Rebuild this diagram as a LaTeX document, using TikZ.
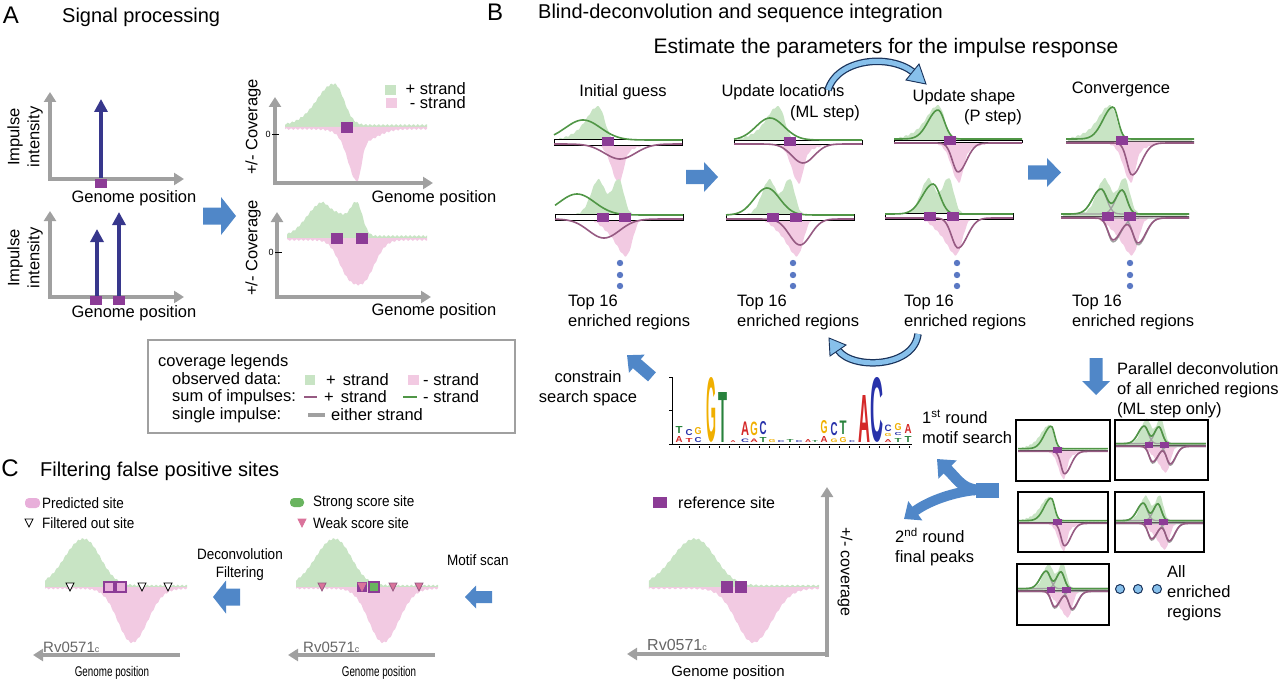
\documentclass[tikz,border=0pt]{standalone}
\usepackage{fontspec}
\setmainfont{Liberation Sans}
\usepackage{graphicx}
\usetikzlibrary{arrows.meta,positioning}

\definecolor{obsg}{RGB}{200,228,196}
\definecolor{obsp}{RGB}{242,202,226}
\definecolor{fitgreen}{RGB}{80,150,70}
\definecolor{fitpurp}{RGB}{150,90,130}
\definecolor{sitec}{RGB}{140,60,150}
\definecolor{axgray}{RGB}{160,160,160}
\definecolor{arrblue}{RGB}{80,135,200}
\definecolor{navy}{RGB}{55,55,140}
\definecolor{dotblue}{RGB}{90,120,195}
\definecolor{clight}{RGB}{135,192,235}
\definecolor{cdark}{RGB}{25,50,90}
\definecolor{predpink}{RGB}{232,175,218}
\definecolor{weakpink}{RGB}{218,115,155}
\definecolor{strongg}{RGB}{105,180,95}
\definecolor{lgred}{RGB}{212,40,40}
\definecolor{lgblue}{RGB}{40,50,170}
\definecolor{lgyel}{RGB}{240,175,0}
\definecolor{lggreen}{RGB}{40,130,60}

\tikzset{
  declare function={hump(\ux,\uc,\ul,\ur,\uh)=\uh*exp(-min(((\ux-\uc)/((\ux<\uc)?\ul:\ur))^2,16));},
  fitg/.style={draw=fitgreen, line width=1.6pt},
  fitp/.style={draw=fitpurp, line width=1.6pt},
  onepulse/.style={draw=axgray, line width=1.3pt},
  axis/.style={draw=axgray, line width=3.5pt, -{Triangle[length=10pt,width=12pt]}},
  pulse/.style={draw=navy, line width=4pt, -{Triangle[length=13pt,width=13pt]}},
  lbl/.style={inner sep=0pt, font=\fontsize{16.5}{20}\selectfont},
  head/.style={inner sep=0pt, font=\fontsize{20}{24}\selectfont},
  letter/.style={inner sep=0pt, font=\fontsize{24}{28}\selectfont},
  clbl/.style={inner sep=0pt, font=\fontsize{15}{18}\selectfont, xscale=0.9},
  stripe/.style={fill=white, draw=black, line width=0.8pt},
  minibox/.style={draw=black, line width=1.5pt},
  legbox/.style={draw=axgray, line width=2pt},
}

% block arrow: centre x, centre y, angle, length, shaft width, head width, head length
\newcommand{\blockarrow}[7]{%
  \fill[arrblue, shift={(#1,#2)}, rotate=#3] (-#4/2,-#5/2) -- (#4/2-#7,-#5/2) -- (#4/2-#7,-#6/2)
    -- (#4/2,0) -- (#4/2-#7,#6/2) -- (#4/2-#7,#5/2) -- (-#4/2,#5/2) -- cycle;}
% observed coverage, single and double peak
\newcommand{\obsone}{%
  \fill[obsg] (-62,0) -- plot[domain=-62:62,samples=100] (\x,{-1.5-hump(\x,-19,15,8,30)-hump(\x,-35,20,20,7)-0.8*sin(67*\x)}) -- (62,0) -- cycle;
  \fill[obsp] (-62,0) -- plot[domain=-62:62,samples=100] (\x,{1.5+hump(\x,1,10,6,32)+hump(\x,4,18,18,8)+0.8*sin(71*\x)}) -- (62,0) -- cycle;}
\newcommand{\obstwo}{%
  \fill[obsg] (-62,0) -- plot[domain=-62:62,samples=100] (\x,{-1.5-hump(\x,-21,10,8,26)-hump(\x,0,8,7,30)-hump(\x,-12,20,15,12)-0.8*sin(67*\x)}) -- (62,0) -- cycle;
  \fill[obsp] (-62,0) -- plot[domain=-62:62,samples=100] (\x,{1.5+hump(\x,8,10,8,34)+hump(\x,-5,15,10,16)+0.8*sin(71*\x)}) -- (62,0) -- cycle;}
\newcommand{\upcurve}[2]{\draw[#1] plot[domain=-64:64,samples=70,smooth] (\x,{-2-(#2)});}
\newcommand{\downcurve}[2]{\draw[#1] plot[domain=-64:64,samples=70,smooth] (\x,{2+(#2)});}
\newcommand{\stripe}[1]{\filldraw[stripe] (-64,-#1) rectangle (64,#1);}
\newcommand{\site}[1]{\fill[sitec] (#1-6,-4.5) rectangle (#1+6,4.5);}
\newcommand{\convone}{\obsone \stripe{0}
  \upcurve{fitg}{hump(\x,-17,14,7,32)} \downcurve{fitp}{hump(\x,2,7,13,32)} \site{-8}}
\newcommand{\convtwo}{\obstwo \stripe{0}
  \upcurve{onepulse}{hump(\x,-24,12,8,25)} \downcurve{onepulse}{hump(\x,-12,7,11,24)}
  \upcurve{onepulse}{hump(\x,-3,9,7,24)} \downcurve{onepulse}{hump(\x,13,7,11,27)}
  \upcurve{fitg}{hump(\x,-24,12,8,25)+hump(\x,-3,9,7,24)}
  \downcurve{fitp}{hump(\x,-12,7,11,22)+hump(\x,13,7,11,25)} \site{-17}\site{5}}
% coverage of panel C
\newcommand{\covc}{%
  \fill[obsg] (-71,0) -- plot[domain=-71:71,samples=120] (\x,{-1.5-hump(\x,-30,28,22,40)-hump(\x,-40,20,20,8)-0.9*sin(83*\x)}) -- (71,0) -- cycle;
  \fill[obsp] (-71,0) -- plot[domain=-71:71,samples=120] (\x,{1.5+hump(\x,16,20,22,54)+0.9*sin(79*\x)}) -- (71,0) -- cycle;}
\newcommand{\tri}[4]{\filldraw[fill=#3, draw=#4, line width=0.7pt] (#1-4,#2-4) -- (#1+4,#2-4) -- (#1,#2+4) -- cycle;}

\begin{document}
\begin{tikzpicture}[x=1pt,y=-1pt]
\useasboundingbox (0,0) rectangle (1280,682);

% ---------------- A
\node[letter] (labA) at (11,15) {A};
\node[head, anchor=west] (titA) at (62,17) {Signal processing};

\draw[axis] (50,181) -- (50,92);
\draw[axis] (48,179) -- (184,179);
\draw[pulse] (101,178) -- (101,99);
\fill[sitec] (95,179) rectangle (107,188);
\node[lbl] (gpA1) at (134,198) {Genome position};
\node[lbl, rotate=90, align=center] (yA1) at (25,137) {Impulse\\intensity};

\draw[axis] (50,299) -- (50,211);
\draw[axis] (48,297) -- (184,297);
\draw[pulse] (97,296) -- (97,229);
\draw[pulse] (119,296) -- (119,212);
\fill[sitec] (90,296) rectangle (102,305);
\fill[sitec] (113,296) rectangle (125,305);
\node[lbl] (gpA2) at (134,313) {Genome position};
\node[lbl, rotate=90, align=center] (yA2) at (25,258) {Impulse\\intensity};

\blockarrow{219.5}{216}{0}{33}{17}{38}{15}

\begin{scope}[shift={(356,127)}]
  \fill[obsg] (-71,0) -- plot[domain=-71:71,samples=120] (\x,{-2-hump(\x,-21,22,13,38)-hump(\x,-40,22,22,6)-0.9*sin(83*\x)}) -- (71,0) -- cycle;
  \fill[obsp] (-71,0) -- plot[domain=-71:71,samples=120] (\x,{2+hump(\x,1,12,6,40)+hump(\x,5,22,22,13)+0.9*sin(79*\x)}) -- (71,0) -- cycle;
\end{scope}
\fill[sitec] (341,122) rectangle (353,133);
\draw[axis] (275,185) -- (275,97);
\draw[axis] (273,183) -- (433,183);
\node[inner sep=0pt, font=\fontsize{9}{10}\selectfont] (zeroA1) at (268,134) {0};
\draw[line width=0.8pt] (272,134) -- (279,134);
\node[lbl, rotate=90] (yA3) at (253,127) {+/- Coverage};
\node[lbl] (gpA3) at (434,198) {Genome position};
\fill[obsg] (385,85) rectangle (396,95);
\fill[obsp] (386,98) rectangle (397,108);
\node[lbl, anchor=east] (plusA) at (466,89) {+ strand};
\node[lbl, anchor=east] (minusA) at (466,103) {- strand};

\begin{scope}[shift={(357,238)}]
  \fill[obsg] (-70,0) -- plot[domain=-70:70,samples=120] (\x,{-2-hump(\x,-37,20,12,30)-hump(\x,0,9,8,30)-hump(\x,-18,14,14,20)-0.9*sin(83*\x)}) -- (70,0) -- cycle;
  \fill[obsp] (-70,0) -- plot[domain=-70:70,samples=120] (\x,{2+hump(\x,5,20,17,42)+hump(\x,-12,12,12,14)+0.9*sin(79*\x)}) -- (70,0) -- cycle;
\end{scope}
\fill[sitec] (331,233) rectangle (343,244);
\fill[sitec] (356,233) rectangle (368,244);
\draw[axis] (277,299) -- (277,212);
\draw[axis] (275,297) -- (431,297);
\node[inner sep=0pt, font=\fontsize{9}{10}\selectfont] (zeroA2) at (271,252) {0};
\draw[line width=0.8pt] (275,252) -- (282,252);
\node[lbl, rotate=90] (yA4) at (253,248) {+/- Coverage};
\node[lbl] (gpA4) at (434,311) {Genome position};

% legend box
\draw[legbox] (148,340) rectangle (515,433);
\node[lbl, anchor=west] (lg0) at (158,362) {coverage legends};
\node[lbl, anchor=west] (lg1) at (172,379) {observed data:};
\node[lbl, anchor=west] (lg2) at (172,397) {sum of impulses:};
\node[lbl, anchor=west] (lg3) at (172,415) {single impulse:};
\fill[obsg] (305,375) rectangle (315,385);
\node[lbl, anchor=west] (lg1a) at (326,380) {+\hspace{7pt}strand};
\fill[obsp] (408,375) rectangle (419,385);
\node[lbl, anchor=west] (lg1b) at (423,380) {- strand};
\draw[fitp, line width=1.2pt] (304,397) -- (317,397);
\node[lbl, anchor=west] (lg2a) at (324,397) {+\hspace{7pt}strand};
\draw[fitg, line width=1.2pt] (403,397) -- (417,397);
\node[lbl, anchor=west] (lg2b) at (423,397) {- strand};
\draw[onepulse, line width=3.5pt] (308,415) -- (325,415);
\node[lbl, anchor=west] (lg3a) at (331,415) {either strand};

% ---------------- B
\node[letter] (labB) at (495,12) {B};
\node[head, anchor=west] (titB) at (538,13) {Blind-deconvolution and sequence integration};
\node[inner sep=0pt, font=\fontsize{21}{24}\selectfont] (titB2) at (886,48) {Estimate the parameters for the impulse response};

\node[lbl] (colB1) at (623,92) {Initial guess};
\node[lbl] (colB2) at (783,92) {Update locations};
\node[lbl, anchor=east] (mlstep) at (860,113) {(ML step)};
\node[lbl] (colB3) at (964,97) {Update shape};
\node[lbl, anchor=east] (pstep) at (1022,117) {(P step)};
\node[lbl] (colB4) at (1121,89) {Convergence};

% initial guess
\begin{scope}[shift={(618,142)}]
  \obsone \stripe{3}
  \upcurve{fitg}{hump(\x,-35,25,25,20)} \downcurve{fitp}{hump(\x,2,22,22,15)} \site{-10}
\end{scope}
\begin{scope}[shift={(619,217)}]
  \obstwo \stripe{3}
  \upcurve{fitg}{hump(\x,-42,25,25,21)} \downcurve{fitp}{hump(\x,-15,22,22,19)} \site{-16}\site{6}
\end{scope}
% update locations
\begin{scope}[shift={(798,142)}]
  \obsone \stripe{2}
  \upcurve{fitg}{hump(\x,-28,20,20,22)} \downcurve{fitp}{hump(\x,5,16,16,19)} \site{-8}
\end{scope}
\begin{scope}[shift={(790,217)}]
  \obstwo \stripe{3}
  \upcurve{fitg}{hump(\x,-23,18,18,27)} \downcurve{fitp}{hump(\x,10,15,15,26)} \site{-17}\site{6}
\end{scope}
% update shape
\begin{scope}[shift={(958,141)}]
  \obsone \stripe{1}
  \upcurve{fitg}{hump(\x,-20,14,9,29)} \downcurve{fitp}{hump(\x,0,8,12,29)} \site{-8}
\end{scope}
\begin{scope}[shift={(949,216)}]
  \obstwo \stripe{3}
  \upcurve{fitg}{hump(\x,-16,15,10,30)} \downcurve{fitp}{hump(\x,9,9,13,30)} \site{-19}\site{4}
\end{scope}
% convergence
\begin{scope}[shift={(1130,141)}] \convone \end{scope}
\begin{scope}[shift={(1125,216)}] \convtwo \end{scope}

\blockarrow{702}{177}{0}{32}{14}{30}{14}
\blockarrow{1044.5}{172.5}{0}{33}{14}{29}{14}

\foreach \cx in {620,793,957,1130}
  \foreach \cy in {263,275,286}
    \fill[dotblue] (\cx,\cy) circle (3.2);
\node[lbl, anchor=west, align=left] (top1) at (568,312) {Top 16\\enriched regions};
\node[lbl, anchor=west, align=left] (top2) at (737,312) {Top 16\\enriched regions};
\node[lbl, anchor=west, align=left] (top3) at (904,312) {Top 16\\enriched regions};
\node[lbl, anchor=west, align=left] (top4) at (1072,312) {Top 16\\enriched regions};

% curved arrows
\draw[line width=7.5pt, cdark] (828,90) .. controls (838,58) and (890,54) .. (913,72);
\draw[line width=5pt, clight] (828,90) .. controls (838,58) and (890,54) .. (913,72);
\filldraw[fill=clight, draw=cdark, line width=0.9pt] (926,84) -- (906,80) -- (919,64) -- cycle;
\draw[line width=7.5pt, cdark] (918,334) .. controls (914,368) and (852,370) .. (838,350);
\draw[line width=5pt, clight] (918,334) .. controls (914,368) and (852,370) .. (838,350);
\filldraw[fill=clight, draw=cdark, line width=0.9pt] (829,338) -- (846,345) -- (830,356) -- cycle;

% motif logo
\draw[line width=0.8pt] (672,377) -- (672,444);
\foreach \ty in {377,410,444} \draw[line width=0.6pt] (669,\ty) -- (672,\ty);
\draw[line width=0.6pt] (672,444) -- (912,444);
\foreach \tx in {679,689,...,909} \draw[line width=1pt] (\tx,446) -- (\tx,448);
\foreach \lx/\ly/\lw/\lh/\lc/\ll [count=\li] in {
  679/443/7/6/lgred/A, 679/434/7/7/lggreen/T,
  689/443/7/4/lgred/T, 689/436/7/6/lgblue/C,
  698/443/7/5/lgblue/C, 698/435/7/7/lgyel/G,
  711/443/10/64/lgyel/G, 723/443/9/50/lggreen/T, 733/443/5/2/lgred/A,
  745/443/8/3.5/lgblue/C, 745/436/8/13.5/lgred/A,
  754/443/7.5/3.5/lgred/A, 754/436/7.5/13.5/lgyel/G,
  763/443/7/5/lggreen/T, 763/435/7/13/lgblue/C,
  772/443/7/3/lgyel/G, 781/443/7/2/lgblue/C, 790/443/7/3/lggreen/T,
  799/443/7/2/lgblue/C, 808/443/6/3/lgred/A, 815/443/6/2/lggreen/T,
  824/443/7/6/lgred/A, 824/434/7/13/lgyel/G,
  834/443/7/3.5/lgyel/G, 834/436/7/13/lgblue/C,
  843/443/7/5/lgyel/G, 843/435/7/13.5/lggreen/T,
  852/443/6/2/lgblue/C,
  864/443/12/47/lgred/A, 877/443/13/64/lgblue/C,
  888/443/7/3/lgred/A, 888/437/7/3/lgyel/G, 888/431.5/7/6.5/lgblue/C,
  898/443/7/4/lggreen/T, 898/436/7/3/lgblue/C, 898/430.5/7/7/lgyel/G,
  908/443/7/6/lggreen/T, 908/434/7/9/lgred/A}
  \node[inner sep=0pt, anchor=south] (logo\li) at (\lx,\ly) {\resizebox{\lw pt}{\lh pt}{\textcolor{\lc}{\bfseries\ll}}};

\node[lbl, align=center] (constr) at (588,388) {constrain\\search space};
\blockarrow{639.5}{366}{139}{33}{12}{24}{13}
\node[lbl, anchor=west, align=left] (round1) at (922,427) {1\textsuperscript{st} round\\motif search};
\node[lbl, anchor=west, align=left] (round2) at (895,547) {2\textsuperscript{nd} round\\final peaks};

% parallel deconvolution
\blockarrow{1096}{376.5}{-90}{37}{13}{28}{14}
\node[lbl, anchor=west, align=left] (para) at (1117,390) {Parallel deconvolution\\of all enriched regions\\(ML step only)};
\begin{scope}[shift={(1063,450)}, scale=0.7] \convone \end{scope}
\draw[minibox] (1016,420) rectangle (1110,481);
\begin{scope}[shift={(1161,445)}, scale=0.7] \convtwo \end{scope}
\draw[minibox] (1115,420) rectangle (1208,480);
\begin{scope}[shift={(1063,522)}, scale=0.7] \convone \end{scope}
\draw[minibox] (1018,492) rectangle (1108,552);
\begin{scope}[shift={(1160,522)}, scale=0.7] \convtwo \end{scope}
\draw[minibox] (1115,492) rectangle (1204,552);
\begin{scope}[shift={(1063,590)}, scale=0.7] \convtwo \end{scope}
\draw[minibox] (1017,564) rectangle (1109,625);
\foreach \cx in {1120,1138,1157}
  \filldraw[fill=clight, draw=cdark, line width=1pt] (\cx,589) circle (4.5);
\node[lbl, anchor=west, align=left] (allreg) at (1167,593) {All\\enriched\\regions};

% fork arrow
\coordinate (forkstem) at (999,490);
\coordinate (forkmid) at (976,490);
\coordinate (forkup) at (937,459);
\coordinate (forkdown) at (904,519);
\draw[arrblue, line width=15pt] (forkstem) -- (forkmid);
\draw[arrblue, line width=11pt, -{Triangle[width=25pt,length=15pt]}] (forkmid) .. controls (962,488) and (958,480) .. (forkup);
\draw[arrblue, line width=10pt, -{Triangle[width=23pt,length=14pt]}] (forkmid) .. controls (955,492) and (930,500) .. (forkdown);

% ---------------- C
\node[letter] (labC) at (10,468) {C};
\node[head, anchor=west] (titC) at (40,471) {Filtering false positive sites};

% left: after filtering
\fill[predpink, rounded corners=4pt] (25,498) rectangle (40,508);
\node[clbl, anchor=west] (lgpred) at (42,503) {Predicted site};
\tri{29}{523}{white}{black}
\node[clbl, anchor=west] (lgfilt) at (42,523) {Filtered out site};
\begin{scope}[shift={(116,587)}] \covc \end{scope}
\tri{70}{587}{white}{black} \tri{142}{587}{white}{black} \tri{168}{587}{white}{black}
\filldraw[fill=predpink, draw=sitec, line width=1.2pt] (104,582) rectangle (114,592);
\filldraw[fill=predpink, draw=sitec, line width=1.2pt] (116,582) rectangle (126,592);
\draw[axis] (180,655) -- (33,655);
\node[inner sep=0pt, anchor=west, text=black!60, font=\fontsize{15}{18}\selectfont] (geneL) at (43,647) {Rv0571\small c};
\node[clbl, font=\fontsize{14}{17}\selectfont, xscale=0.78] (gpC1) at (112,673) {Genome position};

\blockarrow{226.5}{597}{180}{27}{17}{33}{13}
\node[clbl, align=center] (decfilt) at (240,565) {Deconvolution\\Filtering};

% middle: motif scan
\fill[strongg, rounded corners=4pt] (290,498) rectangle (304,507);
\node[clbl, anchor=west] (lgstrong) at (313,503) {Strong score site};
\tri{302}{523}{weakpink}{weakpink}
\node[clbl, anchor=west] (lgweak) at (313,523) {Weak score site};
\begin{scope}[shift={(367,587)}] \covc \end{scope}
\tri{322}{587}{weakpink}{fitpurp} \tri{393}{587}{weakpink}{fitpurp} \tri{419}{587}{weakpink}{fitpurp}
\fill[sitec] (357,582) rectangle (367,592);
\tri{362}{587}{weakpink}{weakpink}
\filldraw[fill=strongg, draw=sitec, line width=1.2pt] (369,582) rectangle (379,592);
\draw[axis] (435,655) -- (288,655);
\node[inner sep=0pt, anchor=west, text=black!60, font=\fontsize{15}{18}\selectfont] (geneM) at (303,647) {Rv0571\small c};
\node[clbl, font=\fontsize{14}{17}\selectfont, xscale=0.78] (gpC2) at (379,673) {Genome position};

\blockarrow{478.5}{597}{180}{27}{12}{23}{11}
\node[clbl] (mscan) at (478,560) {Motif scan};

% right: reference
\fill[sitec] (653,497) rectangle (667,508);
\node[lbl, anchor=west, font=\fontsize{16}{19}\selectfont] (lgref) at (678,503) {reference site};
\begin{scope}[shift={(734,587)}, xscale=1.2] \covc \end{scope}
\fill[sitec] (721,581) rectangle (733,593);
\fill[sitec] (735,581) rectangle (747,593);
\draw[axis] (827,657) -- (827,487);
\draw[axis] (829,654) -- (627,654);
\node[lbl, anchor=west, text=black!60, font=\fontsize{16}{19}\selectfont] (geneR) at (647,645) {Rv0571\small c};
\node[lbl, font=\fontsize{15}{18}\selectfont] (gpC3) at (728,673) {Genome position};
\node[lbl, rotate=-90, font=\fontsize{16}{19}\selectfont] (yC) at (845,572) {+/- coverage};

\end{tikzpicture}
\end{document}
